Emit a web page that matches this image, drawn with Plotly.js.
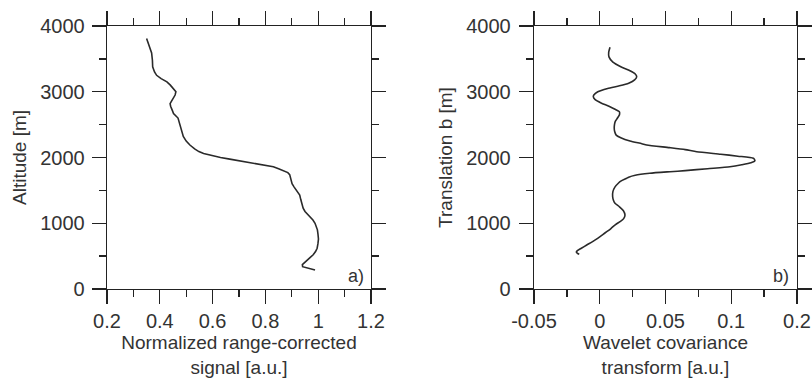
<!DOCTYPE html>
<html>
<head>
<meta charset="utf-8">
<script src="https://cdn.plot.ly/plotly-3.0.1.min.js"></script>
<style>html,body{margin:0;padding:0;background:#fff;}#chart{width:812px;height:378px;}</style>
</head>
<body>
<div id="chart"></div>
<script>
// Panel a: normalized range-corrected signal vs altitude
const altitudeA = [3810,3690,3590,3480,3380,3300,3250,3200,3150,3100,3050,3000,2950,2900,2860,2820,2780,2720,2670,2600,2540,2470,2400,2320,2250,2190,2130,2090,2060,2030,2000,1975,1950,1920,1890,1860,1830,1800,1770,1740,1700,1650,1600,1550,1500,1430,1360,1280,1230,1180,1140,1100,1050,1000,950,900,840,760,690,620,570,520,480,440,400,370,340,315,300,288];
const signalA = [0.350,0.362,0.369,0.372,0.373,0.380,0.388,0.405,0.427,0.440,0.451,0.461,0.458,0.452,0.445,0.439,0.441,0.447,0.452,0.469,0.473,0.477,0.482,0.489,0.500,0.514,0.532,0.548,0.566,0.595,0.630,0.665,0.705,0.752,0.795,0.830,0.850,0.866,0.885,0.892,0.894,0.897,0.901,0.909,0.919,0.930,0.934,0.938,0.943,0.950,0.960,0.969,0.980,0.988,0.994,0.997,0.999,1.001,0.999,0.996,0.990,0.981,0.970,0.958,0.946,0.940,0.941,0.960,0.975,0.988];

// Panel b: wavelet covariance transform vs translation b
const translationB = [3676,3600,3530,3450,3380,3320,3270,3229,3180,3130,3090,3050,3000,2950,2925,2880,2830,2780,2730,2697,2650,2600,2550,2500,2450,2400,2340,2300,2250,2210,2190,2150,2120,2088,2050,2020,1988,1951,1920,1890,1860,1830,1800,1784,1760,1730,1700,1684,1640,1608,1550,1480,1404,1350,1303,1250,1190,1125,1070,1024,980,920,871,800,740,669,620,580,560,540,528];
const wctB = [0.0078,0.0068,0.0070,0.0100,0.0160,0.0230,0.0270,0.0281,0.0265,0.0220,0.0150,0.0060,-0.0015,-0.0045,-0.0049,-0.0035,0.0010,0.0070,0.0120,0.0149,0.0150,0.0135,0.0118,0.0112,0.0110,0.0113,0.0125,0.0160,0.0230,0.0320,0.0357,0.0530,0.0650,0.0737,0.0920,0.1050,0.1168,0.1180,0.1150,0.1080,0.0990,0.0820,0.0650,0.0534,0.0380,0.0270,0.0220,0.0205,0.0160,0.0141,0.0115,0.0100,0.0098,0.0104,0.0116,0.0150,0.0180,0.0192,0.0182,0.0154,0.0120,0.0085,0.0053,0.0005,-0.0040,-0.0099,-0.0140,-0.0172,-0.0178,-0.0168,-0.0156];

// Tick labels
const yTickVals = [0,1000,2000,3000,4000];
const yTickText = ['0','1000','2000','3000','4000'];
const xTickValsA = [0.2,0.4,0.6,0.8,1.0,1.2];
const xTickTextA = ['0.2','0.4','0.6','0.8','1','1.2'];
const xTickValsB = [-0.05,0,0.05,0.1,0.15];
const xTickTextB = ['-0.05','0','0.05','0.1','0.2'];

const FONT = 'Liberation Sans, Arial, Helvetica, sans-serif';
const INK = '#222';
const TXT = '#333';

function axisBase(extra) {
  return Object.assign({
    showline: true, linecolor: INK, linewidth: 1.3, mirror: 'ticks',
    ticks: 'outside', ticklen: 14, tickwidth: 1.3, tickcolor: INK,
    showgrid: false, zeroline: false, tickmode: 'array',
    tickfont: {family: FONT, size: 20, color: TXT},
    fixedrange: true, automargin: false
  }, extra);
}
function minorT(d, t0) { return {dtick: d, tick0: t0, ticks: 'outside', ticklen: 7, tickwidth: 1.3, tickcolor: INK, showgrid: false}; }

const traces = [
  {x: signalA, y: altitudeA, xaxis: 'x', yaxis: 'y', type: 'scatter', mode: 'lines',
   line: {color: '#2a2a2a', width: 1.6}, hoverinfo: 'skip'},
  {x: wctB, y: translationB, xaxis: 'x2', yaxis: 'y2', type: 'scatter', mode: 'lines',
   line: {color: '#2a2a2a', width: 1.6, shape: 'spline', smoothing: 0.6}, hoverinfo: 'skip'}
];

const yDom = [1 - 289/378, 1 - 26/378];
const xDomA = [107/812, 371/812];
const xDomB = [534/812, 797/812];
const titleFont = {family: FONT, size: 19, color: TXT};

const layout = {
  width: 812, height: 378,
  margin: {l: 0, r: 0, t: 0, b: 0},
  paper_bgcolor: '#fff', plot_bgcolor: '#fff',
  showlegend: false,
  font: {family: FONT, color: TXT},
  xaxis: axisBase({
    domain: xDomA, range: [0.2, 1.2], anchor: 'y',
    tickvals: xTickValsA, ticktext: xTickTextA, minor: minorT(0.1, 0.2),
    title: {text: 'Normalized range-corrected<br>signal [a.u.]', font: titleFont, standoff: 2}
  }),
  yaxis: axisBase({
    domain: yDom, range: [0, 4000], anchor: 'x',
    tickvals: yTickVals, ticktext: yTickText, minor: minorT(500, 0), ticklabelstandoff: 3,
    title: {text: 'Altitude [m]', font: titleFont, standoff: 8}
  }),
  xaxis2: axisBase({
    domain: xDomB, range: [-0.05, 0.15], anchor: 'y2',
    tickvals: xTickValsB, ticktext: xTickTextB, minor: minorT(0.025, -0.05),
    title: {text: 'Wavelet covariance<br>transform [a.u.]', font: titleFont, standoff: 2}
  }),
  yaxis2: axisBase({
    domain: yDom, range: [0, 4000], anchor: 'x2',
    tickvals: yTickVals, ticktext: yTickText, minor: minorT(500, 0), ticklabelstandoff: 4,
    title: {text: 'Translation b [m]', font: titleFont, standoff: 8}
  }),
  annotations: [
    {text: 'a)', xref: 'x domain', yref: 'y domain', x: 1, y: 0, xanchor: 'right', yanchor: 'bottom',
     xshift: -5, yshift: 1, showarrow: false, font: {family: FONT, size: 18, color: TXT}},
    {text: 'b)', xref: 'x2 domain', yref: 'y2 domain', x: 1, y: 0, xanchor: 'right', yanchor: 'bottom',
     xshift: -6, yshift: 1, showarrow: false, font: {family: FONT, size: 18, color: TXT}}
  ]
};

Plotly.newPlot('chart', traces, layout, {displayModeBar: false, staticPlot: true});
</script>
</body>
</html>
